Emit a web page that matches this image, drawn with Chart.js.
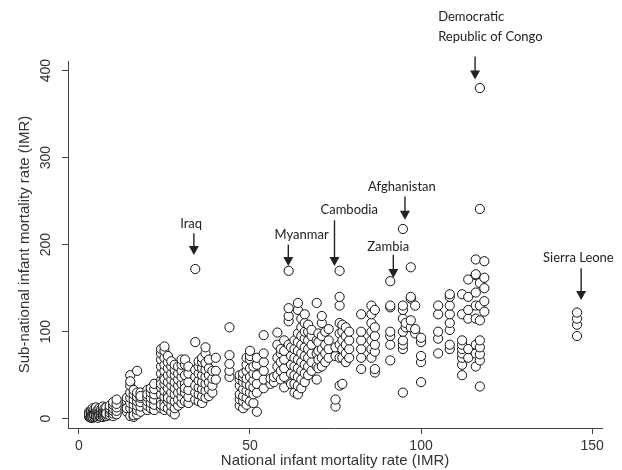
<!DOCTYPE html>
<html>
<head>
<meta charset="utf-8">
<script src="https://cdn.jsdelivr.net/npm/chart.js@4.4.0/dist/chart.umd.min.js"></script>
<style>
  html, body { margin: 0; padding: 0; background: #fff; }
  #wrap { width: 622px; height: 470px; }
</style>
</head>
<body>
<div id="wrap"><canvas id="imrChart"></canvas></div>
<script>
// national IMR of each country, and the sub-national IMRs
const nationalImr = [3, 3.5, 4, 4.5, 5, 5.5, 6, 6.5, 7, 7.5, 8, 9, 10, 11, 14, 15, 16, 17, 18, 20, 21, 22, 24, 25, 26,
  27, 28, 29, 30, 31, 32, 34, 35, 36, 37, 38, 39, 40, 44, 47, 48, 49, 50, 51, 52, 54, 56, 57, 58, 59, 60, 61.3, 62,
  63, 64, 65, 66, 67, 68, 69.5, 70, 71, 72, 73, 75, 76.2, 77, 78, 79, 82.5, 85.5, 86.5, 91, 94.7, 95.5, 97, 98.3,
  100, 105, 108.4, 112, 113.8, 116, 117.2, 118.5, 145.6];
const subnationalImr = [
  [2, 4, 6, 8, 3, 5], [1, 3, 6, 9, 2], [1, 3, 5, 7, 10, 12, 4, 2], [2, 5, 8, 11, 4], [2, 4, 6, 8, 11, 13, 3],
  [1, 4, 7, 10, 3], [3, 5, 7, 9, 12, 4], [2, 5, 8, 11], [2, 4, 6, 9, 11, 14], [3, 6, 9, 12],
  [3, 5, 8, 10, 13, 6], [4, 7, 10, 12, 15], [3, 6, 9, 12, 16, 19], [5, 9, 13, 17, 22], [8, 14, 20, 24, 12],
  [3, 12, 18, 24, 30, 38, 50, 43], [2, 6, 10, 16, 22, 28, 33, 4], [5, 10, 15, 20, 25, 30, 55], [8, 14, 19, 24, 30, 26],
  [10, 15, 20, 25, 33, 28], [12, 18, 24, 30, 35], [10, 16, 22, 28, 34, 40],
  [12, 20, 28, 36, 44, 52, 60, 68, 75, 80, 16, 40], [10, 18, 25, 32, 40, 48, 55, 62, 70, 78, 83, 14, 45],
  [12, 20, 28, 35, 42, 50, 58, 65, 72, 24], [8, 15, 22, 30, 38, 45, 52, 60, 66], [5, 12, 20, 28, 35, 42, 50, 56, 62],
  [15, 22, 30, 38, 45, 52, 60], [18, 25, 32, 40, 48, 55, 62, 68], [20, 30, 40, 50, 62, 68, 35], [18, 25, 33, 42, 52, 60],
  [22, 30, 38, 48, 56, 88, 172], [20, 28, 36, 44, 52, 60, 66], [18, 26, 34, 42, 50, 58, 65, 70],
  [24, 32, 40, 48, 56, 64, 75, 82], [26, 34, 42, 50, 58, 68], [30, 38, 46, 55], [55, 70, 45], [48, 55, 63, 73, 105],
  [15, 22, 28, 38, 45, 50], [12, 20, 26, 34, 42, 48, 52], [16, 24, 32, 40, 46, 55, 62, 70],
  [20, 30, 38, 48, 58, 68, 72, 78], [18, 28, 36, 44, 52, 60], [8, 30, 40, 50, 62, 70], [35, 45, 55, 65, 75, 96],
  [40, 46], [42, 48], [50, 60, 70, 85, 99], [45, 55, 65, 75, 80], [36, 48, 58, 68, 78, 90], [85, 112, 118, 127, 170],
  [40, 52, 62, 72, 82], [30, 40, 50, 60, 70, 80, 90], [28, 38, 48, 58, 68, 78, 88, 98, 125, 133],
  [35, 45, 55, 65, 75, 85, 95, 105, 115], [42, 52, 62, 72, 82, 92, 100, 110, 120], [50, 60, 70, 80, 90, 100, 108],
  [55, 65, 75, 85, 95, 102], [45, 60, 75, 90, 133], [58, 68, 78, 88, 98], [60, 70, 80, 95, 110, 118],
  [65, 75, 85, 100], [70, 80, 90, 103], [14, 22, 72, 82], [38, 70, 85, 98, 110, 130, 140, 170],
  [40, 70, 80, 90, 100, 108], [65, 75, 85, 95, 105], [70, 80, 90, 100], [57, 70, 80, 90, 100, 120],
  [70, 80, 90, 100, 110, 120, 130], [53, 57, 77, 85, 95, 105, 125], [67, 85, 95, 100, 128, 130, 158],
  [30, 80, 85, 90, 100, 115, 125, 130, 218], [105, 110], [105, 113, 138, 140, 174], [98, 103, 130],
  [42, 65, 72, 88, 93], [75, 92, 100, 120, 130], [80, 85, 102, 110, 120, 130, 140, 143],
  [50, 62, 70, 75, 80, 85, 90, 120, 143], [70, 80, 115, 125, 140, 160],
  [60, 75, 85, 115, 130, 145, 165, 166, 183], [37, 67, 74, 82, 90, 113, 130, 156, 241, 380],
  [123, 135, 150, 162, 181], [95, 108, 115, 122]
];
const xTicks = [0, 50, 100, 150];
const yTicks = [0, 100, 200, 300, 400];

// labelled countries: text spot, arrow x, arrow top and tip (data units)
const notes = [
  { lines: ['Iraq'], textX: 32.8, textY: 224, align: 'center', arrowX: 33.6, top: 213, tip: 188 },
  { lines: ['Myanmar'], textX: 65.1, textY: 211, align: 'center', arrowX: 61.2, top: 200, tip: 175.5 },
  { lines: ['Cambodia'], textX: 79, textY: 240, align: 'center', arrowX: 74.7, top: 228, tip: 175.5 },
  { lines: ['Afghanistan'], textX: 94.4, textY: 266, align: 'center', arrowX: 95.3, top: 255.5, tip: 228.7 },
  { lines: ['Zambia'], textX: 90.4, textY: 198, align: 'center', arrowX: 91.9, top: 188.5, tip: 161.7 },
  { lines: ['Democratic', 'Republic of Congo'], textX: 105, textY: 462, align: 'left', arrowX: 115.8, top: 416.4, tip: 389.7 },
  { lines: ['Sierra Leone'], textX: 146, textY: 185, align: 'center', arrowX: 146.8, top: 173, tip: 136.4 }
];

const points = nationalImr.flatMap((nx, i) => subnationalImr[i].map(v => ({ x: nx, y: v })));

const notePlugin = {
  id: 'countryNotes',
  afterDatasetsDraw(chart) {
    const { ctx, scales: { x, y } } = chart;
    ctx.save();
    ctx.font = '13px Lato';
    ctx.fillStyle = '#222';
    ctx.strokeStyle = '#222';
    ctx.lineWidth = 1.4;
    notes.forEach(n => {
      const ax = x.getPixelForValue(n.arrowX);
      const top = y.getPixelForValue(n.top);
      const tip = y.getPixelForValue(n.tip);
      ctx.beginPath();
      ctx.moveTo(ax, top);
      ctx.lineTo(ax, tip - 7);
      ctx.stroke();
      ctx.beginPath();
      ctx.moveTo(ax - 5, tip - 9);
      ctx.lineTo(ax + 5, tip - 9);
      ctx.lineTo(ax, tip);
      ctx.closePath();
      ctx.fill();
      ctx.textAlign = n.align;
      ctx.textBaseline = 'middle';
      n.lines.forEach((t, i) => ctx.fillText(t, x.getPixelForValue(n.textX), y.getPixelForValue(n.textY) + i * 20));
    });
    ctx.restore();
  }
};

const axisColor = '#444';
const axisFont = "'Liberation Sans', Arial, sans-serif";
new Chart(document.getElementById('imrChart'), {
  type: 'scatter',
  data: {
    datasets: [{
      data: points,
      pointRadius: 4.6,
      pointHoverRadius: 4.6,
      borderWidth: 1,
      borderColor: '#111',
      backgroundColor: '#fff'
    }]
  },
  options: {
    responsive: true,
    maintainAspectRatio: false,
    animation: false,
    events: [],
    layout: { autoPadding: false, padding: { top: 61, right: 20, left: 0, bottom: 0 } },
    plugins: { legend: { display: false }, tooltip: { enabled: false } },
    scales: {
      x: {
        type: 'linear', min: -3.2, max: 152.9,
        afterBuildTicks: s => { s.ticks = xTicks.map(v => ({ value: v })); },
        afterFit: s => { s.height = 42; },
        grid: { drawOnChartArea: false, drawTicks: true, tickLength: 6, color: axisColor },
        border: { display: true, color: axisColor },
        ticks: { padding: 4, color: '#333', font: { family: axisFont, size: 14 }, maxRotation: 0 },
        title: { display: true, text: 'National infant mortality rate (IMR)', color: '#333',
          font: { family: axisFont, size: 15 }, padding: 0 }
      },
      y: {
        type: 'linear', min: -10.7, max: 411.1,
        afterBuildTicks: s => { s.ticks = yTicks.map(v => ({ value: v })); },
        afterFit: s => { s.width = 68; },
        grid: { drawOnChartArea: false, drawTicks: true, tickLength: 6, color: axisColor },
        border: { display: true, color: axisColor },
        ticks: { padding: 4, color: '#333', font: { family: axisFont, size: 14 },
          minRotation: 90, maxRotation: 90, crossAlign: 'center' },
        title: { display: true, text: 'Sub-national infant mortality rate (IMR)', color: '#333',
          font: { family: axisFont, size: 15 }, padding: { top: 15.5, bottom: 0 } }
      }
    }
  },
  plugins: [notePlugin]
});
</script>
</body>
</html>
